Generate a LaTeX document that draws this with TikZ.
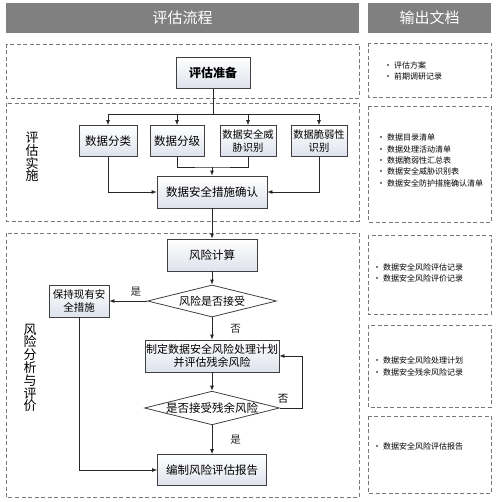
\documentclass[tikz,border=0pt]{standalone}
\usepackage{fontspec}
\setmainfont{Noto Sans CJK SC}
\usetikzlibrary{shapes.geometric,arrows.meta}
\definecolor{hdrgray}{RGB}{128,128,128}
\definecolor{boxbot}{RGB}{222,226,236}
\definecolor{areagray}{RGB}{120,120,120}

\begin{document}
\begin{tikzpicture}[x=1pt, y=-1pt,
  box/.style={draw=black!75, line width=0.8pt, top color=white, bottom color=boxbot,
    align=center, inner sep=1pt, font=\fontsize{11.5}{13}\selectfont},
  dia/.style={diamond, draw=black!75, line width=0.8pt, fill=white, aspect=4,
    inner sep=0pt, font=\fontsize{11}{13}\selectfont},
  area/.style={draw=areagray, line width=0.9pt, dash pattern=on 4pt off 2.5pt},
  hdr/.style={fill=hdrgray, text=white, minimum height=30pt, inner sep=0pt,
    font=\fontsize{15}{17}\selectfont},
  doc/.style={anchor=west, align=left, inner sep=0pt, font=\fontsize{8}{11.4}\selectfont},
  side/.style={align=center, inner sep=0pt, font=\fontsize{13}{12.8}\selectfont},
  lbl/.style={inner sep=0pt, font=\fontsize{10.5}{12}\selectfont},
  arr/.style={-{Latex[length=5pt,width=4pt]}, line width=0.8pt, black!85},
  con/.style={line width=0.8pt, black!85}]
\useasboundingbox (0,0) rectangle (500,502);

\node[hdr, minimum width=353pt] (hflow) at (182.5,18) {评估流程};
\node[hdr, minimum width=123pt] (hdoc) at (429.5,18) {输出文档};

\draw[area] (6,44) rectangle (359,98);
\draw[area] (6,103) rectangle (359,221);
\draw[area] (6,233) rectangle (359,497);
\draw[area] (368,43) rectangle (491,97);
\draw[area] (368,106) rectangle (491,222);
\draw[area] (368,235) rectangle (491,314);
\draw[area] (368,325) rectangle (491,407);
\draw[area] (368,416) rectangle (491,493);

\node[side] (simpl) at (32,157) {评\\估\\实\\施};
\node[side] (sana) at (30,368) {风\\险\\分\\析\\与\\评\\价};

\node[box, font=\fontsize{12}{14}\selectfont\bfseries, minimum width=74pt, minimum height=31pt] (prep) at (213,73) {评估准备};
\node[box, minimum width=58pt, minimum height=31pt] (cls) at (108,141) {数据分类};
\node[box, minimum width=54pt, minimum height=31pt] (grd) at (177,141) {数据分级};
\node[box, font=\fontsize{10.3}{13}\selectfont, minimum width=56pt, minimum height=31pt] (thr) at (248,141) {数据安全威\\胁识别};
\node[box, font=\fontsize{10.3}{13}\selectfont, minimum width=56pt, minimum height=31pt] (vul) at (319,141) {数据脆弱性\\识别};
\node[box, minimum width=110pt, minimum height=32pt] (confirm) at (212,192) {数据安全措施确认};
\node[box, minimum width=90pt, minimum height=32pt] (calc) at (212,255) {风险计算};
\node[dia, minimum width=129pt, minimum height=32pt] (acc) at (212,301) {风险是否接受};
\node[box, font=\fontsize{10.5}{13}\selectfont, minimum width=60pt, minimum height=32pt] (keep) at (79,301) {保持现有安\\全措施};
\node[box, font=\fontsize{11}{13}\selectfont, minimum width=131pt, minimum height=32pt] (plan) at (212,356) {制定数据安全风险处理计划\\并评估残余风险};
\node[dia, font=\fontsize{11.5}{13}\selectfont, minimum width=129pt, minimum height=30pt] (res) at (212,408) {是否接受残余风险};
\node[box, minimum width=109pt, minimum height=31pt] (report) at (212,470) {编制风险评估报告};

\coordinate (split) at (213,114);
\coordinate (join) at (212,167);
\coordinate (loop) at (302,408);

\draw[con] (prep) -- (split);
\draw[arr] (split) -| (cls.north);
\draw[arr] (split) -| (grd.north);
\draw[arr] (split) -| (thr.north);
\draw[arr] (split) -| (vul.north);
\draw[con] (grd.south) |- (join) -| (thr.south);
\draw[arr] (join) -- (confirm.north);
\draw[arr] (cls.south) |- (confirm.west);
\draw[arr] (vul.south) |- (confirm.east);
\draw[arr] (confirm) -- (calc);
\draw[arr] (calc) -- (acc);
\draw[arr] (acc.west) -- (keep.east) node[lbl, pos=0.3, above=4pt] {是};
\draw[arr] (acc.south) -- (plan.north) node[lbl, midway, right=18pt] {否};
\draw[arr] (plan) -- (res);
\draw[arr] (res.east) -- (loop) |- (plan.east);
\node[lbl] (no2) at (283,399) {否};
\draw[arr] (res) -- (report) node[lbl, midway, right=18pt] {是};
\draw[arr] (keep.south) |- (report.west);

\node[doc] (d1) at (384,71) {· 评估方案\\· 前期调研记录};
\node[doc] (d2) at (377,160.5) {· 数据目录清单\\· 数据处理活动清单\\· 数据脆弱性汇总表\\· 数据安全威胁识别表\\· 数据安全防护措施确认清单};
\node[doc] (d3) at (373,273) {· 数据安全风险评估记录\\· 数据安全风险评价记录};
\node[doc] (d4) at (373,366.5) {· 数据安全风险处理计划\\· 数据安全残余风险记录};
\node[doc] (d5) at (373,446) {· 数据安全风险评估报告};
\end{tikzpicture}
\end{document}
